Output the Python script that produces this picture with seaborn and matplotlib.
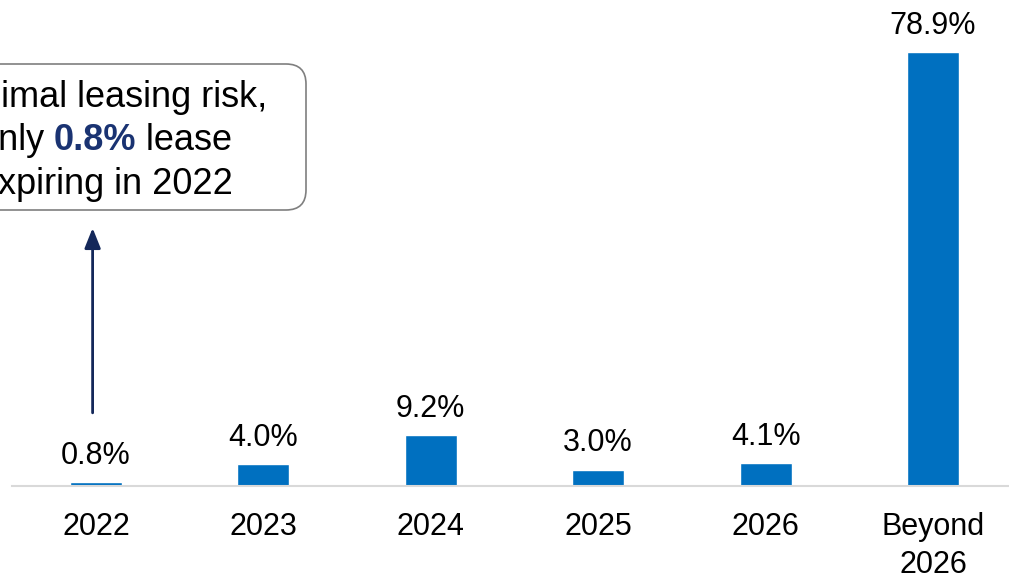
import matplotlib
matplotlib.use("Agg")
import matplotlib.pyplot as plt
import seaborn as sns
import pandas as pd
from matplotlib.patches import FancyBboxPatch
from matplotlib.offsetbox import TextArea, HPacker, VPacker, AnnotationBbox

categories = ["2022", "2023", "2024", "2025", "2026", "Beyond\n2026"]
values = [0.8, 4.0, 9.2, 3.0, 4.1, 78.9]
value_labels = ["0.8%", "4.0%", "9.2%", "3.0%", "4.1%", "78.9%"]

BAR = "#0070C0"
NAVY = "#1A3372"

sns.set_theme(style="white")
plt.rcParams["font.family"] = ["Liberation Sans", "DejaVu Sans"]

W, H = 1009, 577
fig = plt.figure(figsize=(W / 100, H / 100), dpi=100)
ax = fig.add_axes([12.25 / W, 91 / H, (1016.75 - 12.25) / W, 486 / H])

df = pd.DataFrame({"cat": categories, "val": values})
sns.barplot(data=df, x="cat", y="val", color=BAR, width=0.31, ax=ax,
            saturation=1, errorbar=None)

ax.set_xlim(-0.5, len(categories) - 0.5)
ax.set_ylim(0, 486 / 5.5)
ax.set_xlabel("")
ax.set_ylabel("")
ax.set_yticks([])
for s in ["top", "right", "left"]:
    ax.spines[s].set_visible(False)
ax.spines["bottom"].set_color("#d9d9d9")
ax.spines["bottom"].set_linewidth(1.5)
ax.tick_params(axis="x", length=0, pad=18.5, labelsize=22, labelcolor="black")
for lbl in ax.get_xticklabels():
    lbl.set_linespacing(1.35)

for i, (v, t) in enumerate(zip(values, value_labels)):
    ax.annotate(t, xy=(i, v), xytext=(0, 13), textcoords="offset points",
                ha="center", va="baseline", fontsize=22, color="black")

# arrow
ax.annotate("", xy=(-0.02, 46.9), xytext=(-0.02, 13.3),
            arrowprops=dict(arrowstyle="-|>,head_length=0.45,head_width=0.18",
                            color="#14285A", lw=2, mutation_scale=27,
                            shrinkA=0, shrinkB=0))

# callout box
box = FancyBboxPatch(((-86) / 100, (H - 210) / 100), 392 / 100, 146 / 100,
                     boxstyle="round,pad=0,rounding_size=0.2",
                     transform=fig.dpi_scale_trans, facecolor="white",
                     edgecolor="#7f7f7f", linewidth=1.2, zorder=5)
fig.add_artist(box)

fs = 26
tp = dict(fontsize=fs, color="black", family=["Liberation Sans", "DejaVu Sans"])
tb = dict(fontsize=fs, color=NAVY, fontweight="bold",
          family=["Liberation Sans", "DejaVu Sans"])
line1 = TextArea("Minimal leasing risk,", textprops=tp)
line2 = HPacker(children=[TextArea("only ", textprops=tp),
                          TextArea("0.8%", textprops=tb),
                          TextArea(" lease", textprops=tp)],
                align="baseline", pad=0, sep=0)
line3 = TextArea("expiring in 2022", textprops=tp)
vp = VPacker(children=[line1, line2, line3], align="center", pad=0, sep=6)
ab = AnnotationBbox(vp, (105, H - 141), xycoords="figure pixels",
                    frameon=False, box_alignment=(0.5, 0.5), zorder=6)
fig.add_artist(ab)

fig.savefig("out.png", dpi=100)
